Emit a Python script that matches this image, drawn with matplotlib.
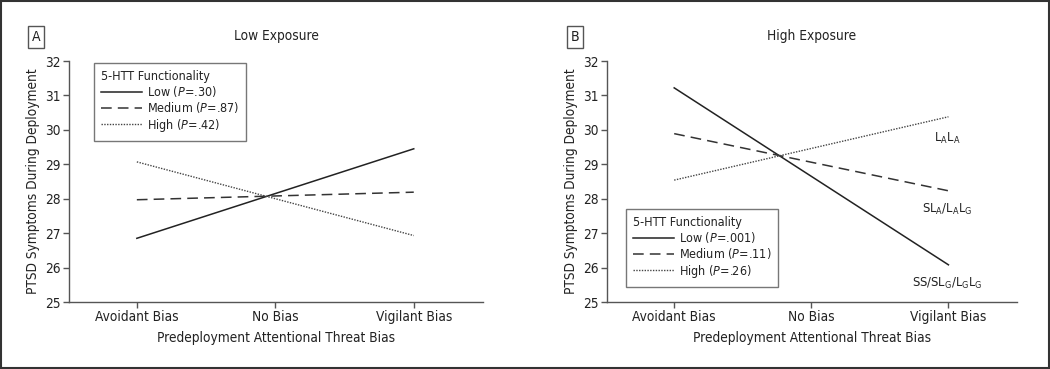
import matplotlib
matplotlib.use("Agg")
import matplotlib.pyplot as plt
from matplotlib.patches import Rectangle
from matplotlib.lines import Line2D

plt.rcParams['font.family'] = ['DejaVu Sans']
plt.rcParams['font.stretch'] = 'condensed'

categories = ["Avoidant Bias", "No Bias", "Vigilant Bias"]
yticks = [25, 26, 27, 28, 29, 30, 31, 32]

low_exp_low = [26.85, 28.15, 29.45]
low_exp_medium = [27.97, 28.08, 28.19]
low_exp_high = [29.07, 28.00, 26.93]

high_exp_low = [31.22, 28.65, 26.08]
high_exp_medium = [29.89, 29.06, 28.23]
high_exp_high = [28.54, 29.46, 30.38]

low_p = [".30", ".87", ".42"]
high_p = [".001", ".11", ".26"]
series_names = ["Low", "Medium", "High"]
genotype_labels = [r"L$_\mathregular{A}$L$_\mathregular{A}$",
                   r"SL$_\mathregular{A}$/L$_\mathregular{A}$L$_\mathregular{G}$",
                   r"SS/SL$_\mathregular{G}$/L$_\mathregular{G}$L$_\mathregular{G}$"]

W, H = 1050, 369
fig = plt.figure(figsize=(W / 100, H / 100), dpi=100)

def ax_rect(x0, x1, y0, y1):
    return [x0 / W, 1 - y1 / H, (x1 - x0) / W, (y1 - y0) / H]

gray = '#555555'
txt = '#222222'
FS = 9.8
LFS = 9.0
styles = [dict(ls='-', lw=1.1, color='#222222'),
          dict(ls=(0, (7, 4)), lw=1.1, color='#333333'),
          dict(ls=(0, (1, 1)), lw=1.0, color='#444444')]

def setup(ax, title, letter, letter_x):
    ax.set_xlim(-0.49, 2.5)
    ax.set_ylim(25, 32)
    ax.set_yticks(yticks)
    ax.set_xticks(range(3))
    ax.set_xticklabels(categories)
    for s in ['top', 'right']:
        ax.spines[s].set_visible(False)
    for s in ['left', 'bottom']:
        ax.spines[s].set_color(gray)
        ax.spines[s].set_linewidth(1.0)
    ax.tick_params(colors=txt, labelsize=FS, length=4, width=1.0, color=gray, pad=2)
    ax.set_xlabel("Predeployment Attentional Threat Bias", fontsize=FS, color=txt, labelpad=5)
    ax.set_ylabel("PTSD Symptoms During Deployment", fontsize=FS, color=txt, labelpad=3.5)
    ax.set_title(title, fontsize=FS, color=txt, pad=15)
    fig.text(letter_x / W, 1 - 37 / H, letter, fontsize=FS + 0.3, ha='center', va='center', color=txt,
             bbox=dict(boxstyle='square,pad=0.25', fc='white', ec=gray, lw=1.0))

def add_legend(ax, pvals, loc_box):
    handles = [Line2D([0], [0], **styles[i]) for i in range(3)]
    labels = [f"{series_names[i]} (" + r"$\mathit{P}$" + f"={pvals[i]})" for i in range(3)]
    leg = ax.legend(handles, labels, title="5-HTT Functionality", loc='upper left',
                    bbox_to_anchor=loc_box, bbox_transform=fig.transFigure, borderaxespad=0,
                    fontsize=LFS, title_fontsize=LFS, frameon=True, fancybox=False,
                    edgecolor=gray, handlelength=3.3, handletextpad=0.4,
                    borderpad=0.55, labelspacing=0.1, alignment='left')
    leg.get_frame().set_linewidth(1.0)
    for t in leg.get_texts():
        t.set_color(txt)
    leg.get_title().set_color(txt)

x = range(3)
axA = fig.add_axes(ax_rect(69, 483, 61, 302))
setup(axA, "Low Exposure", "A", 36)
for vals, st in zip([low_exp_low, low_exp_medium, low_exp_high], styles):
    axA.plot(x, vals, **st)
add_legend(axA, low_p, (94 / W, 1 - 63 / H))

axB = fig.add_axes(ax_rect(607, 1017, 61, 302))
setup(axB, "High Exposure", "B", 575)
for vals, st in zip([high_exp_low, high_exp_medium, high_exp_high], styles):
    axB.plot(x, vals, **st)
add_legend(axB, high_p, (626 / W, 1 - 209 / H))

label_y = [29.76, 27.7, 25.55]
for lab, yv in zip(genotype_labels, label_y):
    axB.text(1.99, yv, lab, fontsize=LFS + 0.3, ha='center', va='center', color=txt)

fig.add_artist(Rectangle((0.5 / W, 1.5 / H), (W - 2) / W, (H - 2.5) / H,
                         transform=fig.transFigure, fill=False, ec='#333333', lw=1.5))

fig.savefig("out.png", dpi=100, facecolor='white')
